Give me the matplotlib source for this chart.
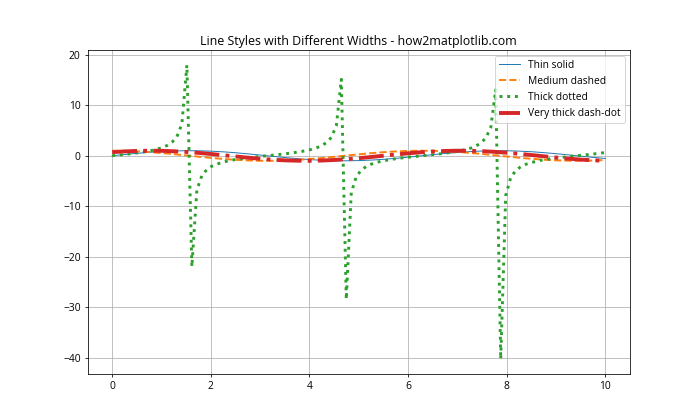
import numpy as np
import matplotlib
matplotlib.use('Agg')
import matplotlib.pyplot as plt

plt.rcParams['font.family'] = ['Open Sans', 'DejaVu Sans']
plt.rcParams['font.size'] = 10.6

# smooth curves, every 0.25
x = [0, 0.25, 0.5, 0.75, 1.0, 1.25, 1.5, 1.75, 2.0, 2.25, 2.5, 2.75, 3.0, 3.25,
     3.5, 3.75, 4.0, 4.25, 4.5, 4.75, 5.0, 5.25, 5.5, 5.75, 6.0, 6.25, 6.5, 6.75,
     7.0, 7.25, 7.5, 7.75, 8.0, 8.25, 8.5, 8.75, 9.0, 9.25, 9.5, 9.75, 10.0]
thin_solid = [0.0, 0.25, 0.48, 0.68, 0.84, 0.95, 1.0, 0.98, 0.91, 0.78, 0.6, 0.38,
              0.14, -0.11, -0.35, -0.57, -0.76, -0.9, -0.98, -1.0, -0.96, -0.86,
              -0.71, -0.51, -0.28, -0.03, 0.22, 0.45, 0.66, 0.82, 0.94, 0.99, 0.99,
              0.92, 0.8, 0.62, 0.41, 0.17, -0.08, -0.32, -0.54]
medium_dashed = [1.0, 0.97, 0.88, 0.73, 0.54, 0.32, 0.07, -0.18, -0.42, -0.63, -0.8,
                 -0.92, -0.99, -0.99, -0.94, -0.82, -0.65, -0.45, -0.21, 0.04, 0.28,
                 0.51, 0.71, 0.86, 0.96, 1.0, 0.98, 0.89, 0.75, 0.57, 0.35, 0.1,
                 -0.15, -0.39, -0.6, -0.78, -0.91, -0.98, -1.0, -0.95, -0.84]
very_thick = [0.71, 0.86, 0.96, 1.0, 0.98, 0.89, 0.76, 0.57, 0.35, 0.11, -0.14, -0.38,
              -0.6, -0.78, -0.91, -0.98, -1.0, -0.95, -0.84, -0.68, -0.48, -0.25,
              0.0, 0.25, 0.48, 0.68, 0.84, 0.95, 1.0, 0.98, 0.91, 0.78, 0.6, 0.38,
              0.14, -0.11, -0.35, -0.57, -0.76, -0.9, -0.98]

# dotted series with its spikes
x_dot = [0.0, 0.202, 0.404, 0.6061, 0.8081, 1.0101, 1.1111, 1.2121, 1.3131, 1.4141,
         1.5152, 1.6162, 1.7172, 1.8182, 1.9192, 2.0202, 2.2222, 2.4242, 2.6263,
         2.8283, 3.0303, 3.2323, 3.4343, 3.6364, 3.8384, 4.0404, 4.1414, 4.2424,
         4.3434, 4.4444, 4.5455, 4.6465, 4.7475, 4.8485, 4.9495, 5.0505, 5.1515,
         5.2525, 5.3535, 5.4545, 5.6566, 5.8586, 6.0606, 6.2626, 6.4646, 6.6667,
         6.8687, 7.0707, 7.2727, 7.3737, 7.4747, 7.5758, 7.6768, 7.7778, 7.8788,
         7.9798, 8.0808, 8.1818, 8.2828, 8.3838, 8.4848, 8.6869, 8.8889, 9.0909,
         9.2929, 9.4949, 9.697, 9.899, 10.0]
thick_dotted = [0.0, 0.2, 0.43, 0.69, 1.05, 1.59, 2.02, 2.67, 3.79, 6.33,
                17.97, -22.01, -6.78, -3.96, -2.75, -2.07, -1.31, -0.87, -0.57,
                -0.32, -0.11, 0.09, 0.3, 0.54, 0.84, 1.26, 1.56, 1.97,
                2.59, 3.64, 5.94, 15.15, -28.48, -7.3, -4.14, -2.84, -2.13,
                -1.67, -1.34, -1.09, -0.72, -0.45, -0.23, -0.02, 0.18, 0.4,
                0.66, 1.0, 1.52, 1.92, 2.51, 3.5, 5.58, 13.1, -40.31,
                -7.91, -4.33, -2.94, -2.19, -1.71, -1.37, -0.91, -0.59, -0.35,
                -0.13, 0.07, 0.28, 0.51, 0.65]

fig, ax = plt.subplots(figsize=(10, 6), dpi=70)

ax.plot(x, thin_solid, linewidth=1, linestyle='-', label='Thin solid')
ax.plot(x, medium_dashed, linewidth=2, linestyle='--', label='Medium dashed')
ax.plot(x_dot, thick_dotted, linewidth=3, linestyle=':', label='Thick dotted')
ax.plot(x, very_thick, linewidth=4, linestyle='-.', label='Very thick dash-dot')

ax.set_title('Line Styles with Different Widths - how2matplotlib.com')
ax.legend(loc='upper right')
ax.grid(True)

plt.savefig('out.png')
